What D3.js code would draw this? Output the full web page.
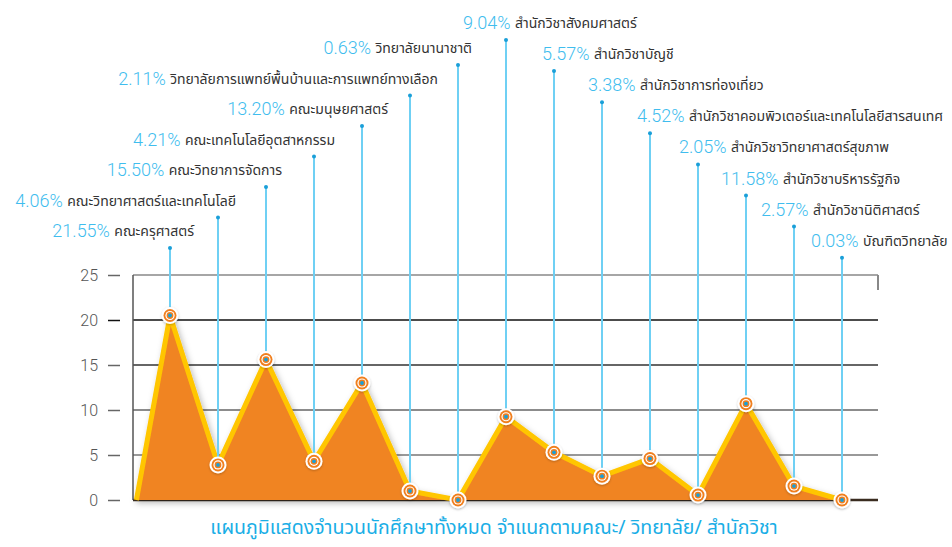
<!DOCTYPE html>
<html>
<head>
<meta charset="utf-8">
<script src="https://cdn.jsdelivr.net/npm/d3@7"></script>
<style>
  html, body { margin: 0; padding: 0; background: #fff; }
</style>
</head>
<body>
<div id="chart"></div>
<script>
// --- Data ---
const faculties = [
  "คณะครุศาสตร์",
  "คณะวิทยาศาสตร์และเทคโนโลยี",
  "คณะวิทยาการจัดการ",
  "คณะเทคโนโลยีอุตสาหกรรม",
  "คณะมนุษยศาสตร์",
  "วิทยาลัยการแพทย์พื้นบ้านและการแพทย์ทางเลือก",
  "วิทยาลัยนานาชาติ",
  "สำนักวิชาสังคมศาสตร์",
  "สำนักวิชาบัญชี",
  "สำนักวิชาการท่องเที่ยว",
  "สำนักวิชาคอมพิวเตอร์และเทคโนโลยีสารสนเทศ",
  "สำนักวิชาวิทยาศาสตร์สุขภาพ",
  "สำนักวิชาบริหารรัฐกิจ",
  "สำนักวิชานิติศาสตร์",
  "บัณฑิตวิทยาลัย",
];
const percents = ["21.55%", "4.06%", "15.50%", "4.21%", "13.20%", "2.11%", "0.63%",
  "9.04%", "5.57%", "3.38%", "4.52%", "2.05%", "11.58%", "2.57%", "0.03%"];
// heights as drawn in the picture
const values = [20.5, 3.9, 15.6, 4.3, 13.0, 1.0, 0, 9.25, 5.3, 2.65, 4.6, 0.55, 10.7, 1.55, 0];
const yTicks = [0, 5, 10, 15, 20, 25];
const title = "แผนภูมิแสดงจำนวนนักศึกษาทั้งหมด จำแนกตามคณะ/ วิทยาลัย/ สำนักวิชา";

// --- Dimensions ---
const width = 952;
const height = 547;
const plot = { left: 133, right: 878, top: 275, bottom: 500 };
const thaiFont = "'Noto Sans Thai', 'Loma', 'Garuda', 'Tlwg Typo', 'Noto Sans', sans-serif";
const numFont = "Roboto, 'Liberation Sans', sans-serif";
// hand nudges of the label text relative to its leader line
const labelDx = [24, 18, 16, 21, 26, 28, 14, -43, -12, -14, -13, -19, -25, -33, -31];

const svg = d3
  .select("#chart")
  .append("svg")
  .attr("width", width)
  .attr("height", height);

const defs = svg.append("defs");
const shadow = defs.append("filter").attr("id", "shadow")
  .attr("x", "-10%").attr("y", "-10%").attr("width", "120%").attr("height", "130%");
shadow.append("feDropShadow")
  .attr("dx", 2).attr("dy", 3).attr("stdDeviation", 3)
  .attr("flood-color", "#000").attr("flood-opacity", 0.28);
const halo = defs.append("filter").attr("id", "halo")
  .attr("x", "-50%").attr("y", "-50%").attr("width", "200%").attr("height", "200%");
halo.append("feDropShadow")
  .attr("dx", 0).attr("dy", 1).attr("stdDeviation", 1.2)
  .attr("flood-color", "#000").attr("flood-opacity", 0.25);

const x = d3.scalePoint().domain(faculties).range([170, 842]);
const y = d3.scaleLinear().domain([0, 25]).range([plot.bottom, plot.top]);

// --- Grid & axis ---
const gridColor = { 0: "#3a2c20", 5: "#777", 10: "#666", 15: "#333", 20: "#111", 25: "#888" };

svg.append("g")
  .selectAll("line")
  .data(yTicks)
  .join("line")
  .attr("x1", plot.left)
  .attr("x2", plot.right)
  .attr("y1", (d) => y(d))
  .attr("y2", (d) => y(d))
  .attr("stroke", (d) => gridColor[d])
  .attr("stroke-width", (d) => (d === 0 ? 2.5 : 1.5));

svg.append("line")
  .attr("x1", plot.left).attr("x2", plot.left)
  .attr("y1", plot.top).attr("y2", plot.bottom)
  .attr("stroke", "#555").attr("stroke-width", 1.5);

svg.append("line")
  .attr("x1", plot.right).attr("x2", plot.right)
  .attr("y1", plot.top).attr("y2", plot.top + 15)
  .attr("stroke", "#888").attr("stroke-width", 2);

const yAxis = d3.axisLeft(y).tickValues(yTicks).tickSize(12).tickPadding(10);
const axisG = svg.append("g")
  .attr("transform", `translate(${plot.left - 13},0)`)
  .call(yAxis);
axisG.select(".domain").remove();
axisG.selectAll(".tick line")
  .attr("stroke", (d) => (d === 20 ? "#111" : "#666"))
  .attr("stroke-width", 1.5);
axisG.selectAll(".tick text")
  .attr("fill", "#555")
  .style("font-family", numFont)
  .style("font-size", "16px")
  .style("font-weight", 300);

// --- Area & line ---
const startX = x(faculties[0]) - x.step() * 0.7;
const pts = [[startX, 0]].concat(faculties.map((f, i) => [x(f), values[i]]));

const area = d3.area()
  .x((d) => d[0])
  .y0(y(0))
  .y1((d) => y(d[1]));
const line = d3.line()
  .x((d) => d[0])
  .y((d) => y(d[1]));

const areaG = svg.append("g").attr("filter", "url(#shadow)");
areaG.append("path")
  .datum(pts)
  .attr("d", area)
  .attr("fill", "#f08422");
areaG.append("path")
  .datum(pts)
  .attr("d", line)
  .attr("fill", "none")
  .attr("stroke", "#ffc600")
  .attr("stroke-width", 5)
  .attr("stroke-linejoin", "miter")
  .attr("stroke-miterlimit", 6);

// --- Leader lines & labels ---
// staircase heights for the label anchors (peak at the 8th label)
const peak = 7;
const anchorY = (i) => (i < peak ? 65 + 30.5 * (peak - 1 - i) : 40 + 31.1 * (i - peak));

const leaders = svg.append("g");
leaders.selectAll("line")
  .data(faculties)
  .join("line")
  .attr("x1", (d) => x(d))
  .attr("x2", (d) => x(d))
  .attr("y1", (d, i) => anchorY(i))
  .attr("y2", (d, i) => y(values[i]))
  .attr("stroke", "#6fd0f4")
  .attr("stroke-width", 2);
leaders.selectAll("circle")
  .data(faculties)
  .join("circle")
  .attr("cx", (d) => x(d))
  .attr("cy", (d, i) => anchorY(i))
  .attr("r", 2)
  .attr("fill", "#1a9fd8");

// markers
const markers = svg.append("g")
  .selectAll("g")
  .data(faculties)
  .join("g")
  .attr("transform", (d, i) => `translate(${x(d)},${y(values[i])})`);
markers.append("circle").attr("r", 8.5).attr("fill", "#fff")
  .attr("filter", "url(#halo)");
markers.append("circle").attr("r", 6.5).attr("fill", "#f07f1e");
markers.append("circle").attr("r", 4.6).attr("fill", "#fff");
markers.append("circle").attr("r", 3.4).attr("fill", "#f07f1e");
markers.append("circle").attr("r", 1.9).attr("fill", "#1a9fd8");

const labels = svg.append("g")
  .selectAll("text")
  .data(faculties)
  .join("text")
  .attr("x", (d, i) => x(d) + labelDx[i])
  .attr("y", (d, i) => anchorY(i) - 16)
  .attr("dominant-baseline", "middle")
  .attr("text-anchor", (d, i) => (i < peak ? "end" : "start"));
labels.append("tspan")
  .attr("fill", "#3fbdee")
  .style("font-family", numFont)
  .style("font-weight", 300)
  .style("font-size", "18px")
  .text((d, i) => percents[i] + " ");
labels.append("tspan")
  .attr("fill", "#333")
  .style("font-family", thaiFont)
  .style("font-size", "14px")
  .text((d) => d);

// --- Title ---
svg.append("text")
  .attr("x", 494)
  .attr("y", 529)
  .attr("text-anchor", "middle")
  .attr("dominant-baseline", "middle")
  .attr("fill", "#1aaee6")
  .style("font-family", thaiFont)
  .style("font-size", "19.5px")
  .text(title);
</script>
</body>
</html>
